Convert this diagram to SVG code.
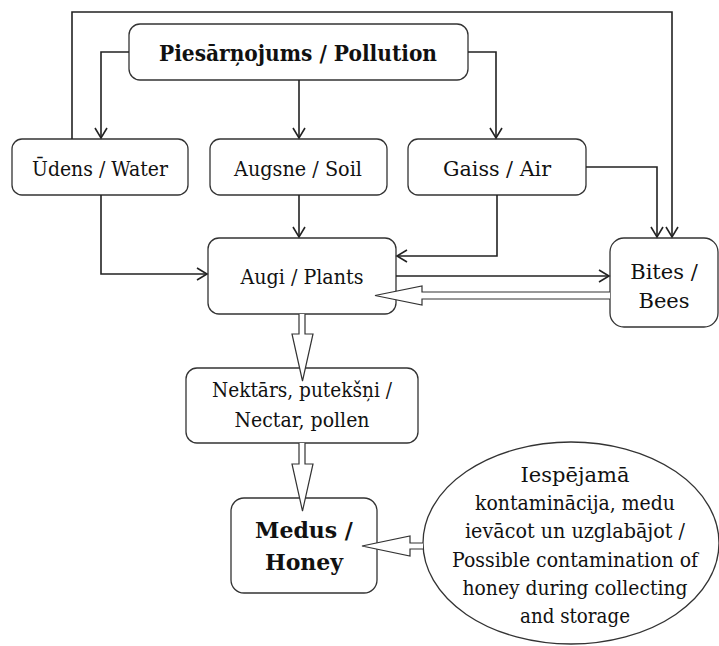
<svg xmlns="http://www.w3.org/2000/svg" width="719" height="646" viewBox="0 0 719 646">
<style>
.box{fill:#fff;stroke:#333;stroke-width:1.3}
.t{font-family:'DejaVu Serif','Noto Serif',serif;font-size:21px;fill:#111;text-anchor:middle}
.b{font-weight:bold;font-size:22px}
.c{fill:none;stroke:#222;stroke-width:1.6}
.h{fill:#fff;stroke:#333;stroke-width:1.2}
</style>
<defs>
<marker id="ar" markerUnits="userSpaceOnUse" markerWidth="14" markerHeight="14" refX="11" refY="7" orient="auto">
<path d="M1,1 L11,7 L1,13" fill="none" stroke="#222" stroke-width="1.6"/>
</marker>
</defs>
<g id="pollution"><rect class="box" x="129" y="24" width="339" height="56" rx="11"/><text class="t b" x="298" y="61" textLength="278" lengthAdjust="spacingAndGlyphs">Piesārņojums / Pollution</text></g>
<g id="water"><rect class="box" x="12" y="139" width="176" height="56" rx="10"/><text class="t" x="100" y="176" textLength="136" lengthAdjust="spacingAndGlyphs">Ūdens / Water</text></g>
<g id="soil"><rect class="box" x="210" y="139" width="177" height="56" rx="10"/><text class="t" x="298" y="176" textLength="128" lengthAdjust="spacingAndGlyphs">Augsne / Soil</text></g>
<g id="air"><rect class="box" x="408" y="139" width="178" height="56" rx="10"/><text class="t" x="497" y="176" textLength="108" lengthAdjust="spacingAndGlyphs">Gaiss / Air</text></g>
<g id="plants"><rect class="box" x="208" y="238" width="188" height="76" rx="11"/><text class="t" x="302" y="284" textLength="123" lengthAdjust="spacingAndGlyphs">Augi / Plants</text></g>
<g id="bees"><rect class="box" x="610" y="238" width="108" height="89" rx="14"/><text class="t" x="664" y="279">Bites /</text><text class="t" x="664" y="308">Bees</text></g>
<g id="nectar"><rect class="box" x="186" y="368" width="232" height="75" rx="11"/><text class="t" x="302" y="397" textLength="180" lengthAdjust="spacingAndGlyphs">Nektārs, putekšņi /</text><text class="t" x="302" y="427" textLength="135" lengthAdjust="spacingAndGlyphs">Nectar, pollen</text></g>
<g id="honey"><rect class="box" x="231" y="498" width="146" height="95" rx="13"/><text class="t b" x="304" y="538">Medus /</text><text class="t b" x="304" y="570">Honey</text></g>
<g id="contamination"><ellipse class="box" cx="571" cy="543" rx="148" ry="101"/>
<text class="t" x="575" y="482">Iespējamā</text>
<text class="t" x="575" y="510" textLength="200" lengthAdjust="spacingAndGlyphs">kontaminācija, medu</text>
<text class="t" x="575" y="538" textLength="220" lengthAdjust="spacingAndGlyphs">ievācot un uzglabājot /</text>
<text class="t" x="575" y="567" textLength="246" lengthAdjust="spacingAndGlyphs">Possible contamination of</text>
<text class="t" x="575" y="595" textLength="225" lengthAdjust="spacingAndGlyphs">honey during collecting</text>
<text class="t" x="575" y="623" textLength="110" lengthAdjust="spacingAndGlyphs">and storage</text></g>
<g id="connectors">
<path class="c" d="M129,52 H101 V138" marker-end="url(#ar)"/>
<path class="c" d="M299,80 V138" marker-end="url(#ar)"/>
<path class="c" d="M468,52 H496 V138" marker-end="url(#ar)"/>
<path class="c" d="M72,139 V12 H672 V237" marker-end="url(#ar)"/>
<path class="c" d="M586,167 H657 V237" marker-end="url(#ar)"/>
<path class="c" d="M299,195 V237" marker-end="url(#ar)"/>
<path class="c" d="M101,195 V274 H207" marker-end="url(#ar)"/>
<path class="c" d="M497,195 V256 H397" marker-end="url(#ar)"/>
<path class="c" d="M396,276 H609" marker-end="url(#ar)"/>
<path class="h" d="M610,292 H422 V286 L375,295.5 L422,305 V299 H610"/>
<path class="h" d="M299,314 V334 H292 L302.5,381 L313,334 H305 V314"/>
<path class="h" d="M299,443 V464 H292 L302.5,511 L313,464 H305 V443"/>
<path class="h" d="M423,543 H410 V536 L362,546 L410,556 V549 H423"/>
</g>
</svg>
